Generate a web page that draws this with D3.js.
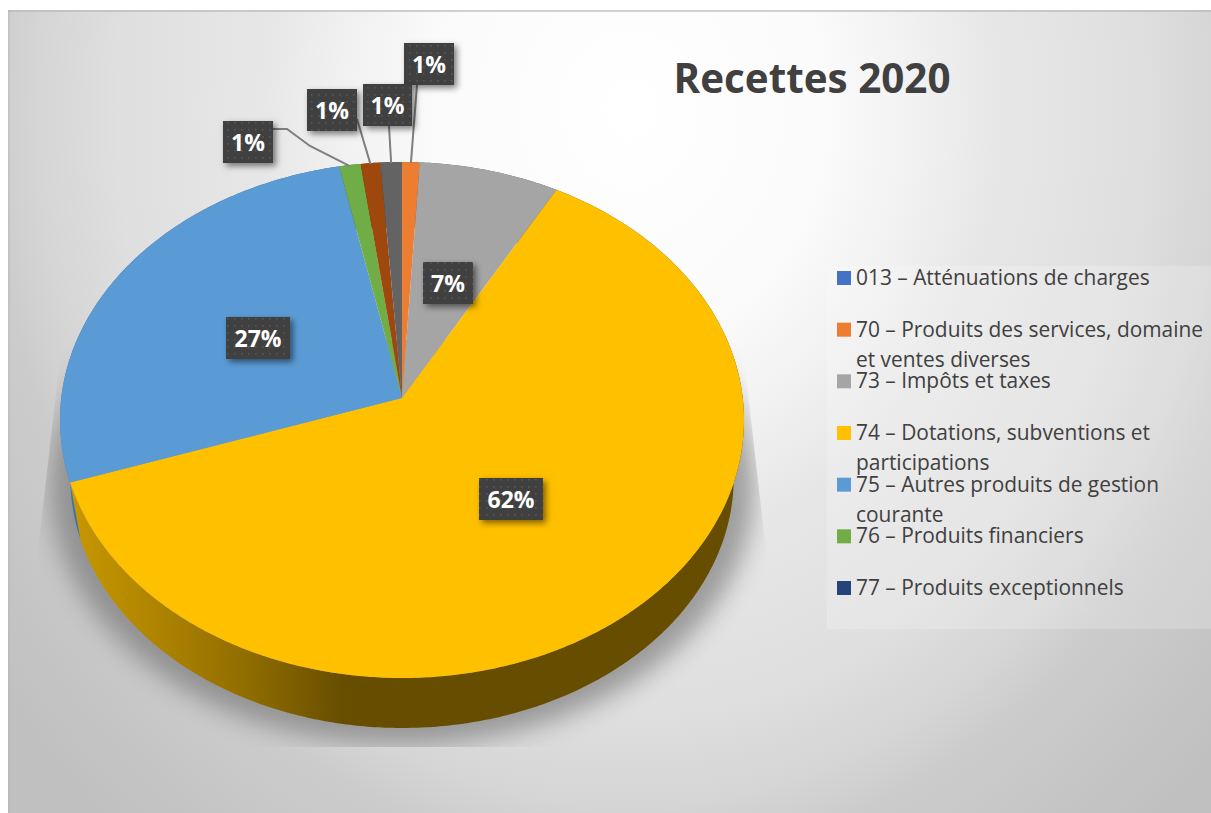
<!DOCTYPE html>
<html><head><meta charset="utf-8">
<script src="https://cdn.jsdelivr.net/npm/d3@7/dist/d3.min.js"></script>
<style>html,body{margin:0;padding:0;background:#fff}svg{display:block}</style>
</head><body><svg id="c" width="1211" height="813"></svg>
<script>
const title = "Recettes 2020";
const seriesValues = [0, 0.9, 7.2, 61.7, 27.0, 1.1, 0, 1.0, 1.1];
const seriesColors = ["#4472C4","#ED7D31","#A5A5A5","#FFC000","#5B9BD5","#70AD47","#264478","#9E480E","#636363"];
const legendLabels = [
  ["013 – Atténuations de charges"],
  ["70 – Produits des services, domaine","et ventes diverses"],
  ["73 – Impôts et taxes"],
  ["74 – Dotations, subventions et","participations"],
  ["75 – Autres produits de gestion","courante"],
  ["76 – Produits financiers"],
  ["77 – Produits exceptionnels"]
];

const FONT = "'Open Sans', sans-serif";
const svg = d3.select("#c");
const defs = svg.append("defs");

// background
const bg = defs.append("radialGradient").attr("id","bg").attr("gradientUnits","userSpaceOnUse")
  .attr("cx",0).attr("cy",0).attr("r",1)
  .attr("gradientTransform","translate(630,110) scale(800,937)");
[[0,"#ffffff"],[0.24,"#fbfbfb"],[0.36,"#f1f1f1"],[0.46,"#e7e7e7"],[0.64,"#dfdfdf"],[0.744,"#d5d5d5"],[0.8,"#cccccc"],[1,"#c0c0c0"]]
  .forEach(s=>bg.append("stop").attr("offset",s[0]).attr("stop-color",s[1]));
svg.append("rect").attr("x",8).attr("y",10).attr("width",1203).attr("height",803).attr("fill","url(#bg)");
svg.append("rect").attr("x",8).attr("y",10).attr("width",1203).attr("height",2).attr("fill","#b4b4b4").attr("opacity",.6);
svg.append("rect").attr("x",8).attr("y",10).attr("width",2).attr("height",803).attr("fill","#b4b4b4").attr("opacity",.4);

// perspective pie geometry
const k = 0.0853;
const topX = d3.scaleLinear().domain([-1,1]).range([402-340.75,402+340.75]);
const topY = d3.scaleLinear().domain([-1,1]).range([398-256.1,398+256.1]);
const baseX = d3.scaleLinear().domain([-1,1]).range([402-330.5,402+330.5]);
const baseY = d3.scaleLinear().domain([-1,1]).range([456.4-248.4,456.4+248.4]);
const shadowX = d3.scaleLinear().domain([-1,1]).range([402-351,402+351]);
const shadowY = d3.scaleLinear().domain([-1,1]).range([463-258,463+258]);
const project = (a,sx,sy,r=1)=>{
  const u=r*Math.sin(a), v=-r*Math.cos(a), w=1-k*v;
  return [sx(u/w), sy(v/w)];
};
const arcs = d3.pie().sort(null).value(d=>d)(seriesValues).map((d,i)=>({...d,i}));
const line = d3.line();
const samples = (a0,a1)=>{
  const n=Math.max(2,Math.ceil((a1-a0)/0.01));
  return d3.range(n+1).map(j=>a0+(a1-a0)*j/n);
};

// shadow
defs.append("filter").attr("id","blur").attr("x","-20%").attr("y","-20%").attr("width","140%").attr("height","140%")
  .append("feGaussianBlur").attr("stdDeviation",12);
defs.append("clipPath").attr("id","shClip").append("polygon")
  .attr("points","62,340 38,550 38,747 765,747 767,560 742,340");
svg.append("g").attr("clip-path","url(#shClip)")
  .append("path").attr("d",line(samples(0,2*Math.PI).map(a=>project(a,shadowX,shadowY)))+"Z")
  .attr("fill","#707070").attr("opacity",.62).attr("filter","url(#blur)");

// wall gradients
const wallStops = {
  3:[[70,"#c89800"],[150,"#b08500"],[250,"#8f6c00"],[345,"#664d00"],[760,"#664d00"]],
  4:[[60,"#4a80b4"],[80,"#3d6d9b"]]
};
Object.entries(wallStops).forEach(([i,st])=>{
  const g=defs.append("linearGradient").attr("id","wall"+i).attr("gradientUnits","userSpaceOnUse")
    .attr("x1",st[0][0]).attr("x2",st[st.length-1][0]).attr("y1",0).attr("y2",0);
  const x0=st[0][0],x1=st[st.length-1][0];
  st.forEach(s=>g.append("stop").attr("offset",(s[0]-x0)/(x1-x0)).attr("stop-color",s[1]));
});
// walls
svg.append("g").selectAll("path").data(arcs.filter(d=>d.value>0)).join("path")
  .attr("d",d=>{
    const a=samples(d.startAngle,d.endAngle);
    return line(a.map(t=>project(t,topX,topY)).concat(a.slice().reverse().map(t=>project(t,baseX,baseY))))+"Z";
  })
  .attr("fill",d=>wallStops[d.i]?`url(#wall${d.i})`:d3.color(seriesColors[d.i]).darker(1.5));
// top faces
svg.append("g").selectAll("path").data(arcs.filter(d=>d.value>0)).join("path")
  .attr("d",d=>line([project(0,topX,topY,0)].concat(samples(d.startAngle,d.endAngle).map(t=>project(t,topX,topY))))+"Z")
  .attr("fill",d=>seriesColors[d.i]);

// leader lines
const leaders = [
  {s:5,pts:[[273,129],[287,129],[310,146]]},
  {s:7,pts:[[357,119]]},
  {s:8,pts:[[389,126]]},
  {s:1,pts:[[417,85]]}
];
svg.append("g").selectAll("path").data(leaders).join("path")
  .attr("d",d=>{
    const arc=arcs[d.s], end=project((arc.startAngle+arc.endAngle)/2,topX,topY);
    return line(d.pts.concat([[end[0],end[1]+1]]));
  })
  .attr("fill","none").attr("stroke","#7f7f7f").attr("stroke-width",2);

// data labels
const pat=defs.append("pattern").attr("id","dots").attr("patternUnits","userSpaceOnUse").attr("width",7).attr("height",7);
pat.append("rect").attr("width",7).attr("height",7).attr("fill","#404040");
pat.append("rect").attr("x",3).attr("y",3).attr("width",1.6).attr("height",1.6).attr("fill","#565656");
const sf=defs.append("filter").attr("id","ds").attr("x","-30%").attr("y","-30%").attr("width","170%").attr("height","170%");
sf.append("feDropShadow").attr("dx",3).attr("dy",3).attr("stdDeviation",3).attr("flood-color","#000").attr("flood-opacity",.5);
const labelBoxes = [
  {s:1,x:404,y:43,w:50,h:42},{s:2,x:423,y:262,w:50,h:42},{s:3,x:479,y:478,w:64,h:42},
  {s:4,x:226,y:317,w:64,h:42},{s:5,x:223,y:121,w:50,h:42},{s:7,x:307,y:89,w:50,h:42},{s:8,x:363,y:84,w:49,h:42}
];
const lg=svg.append("g").selectAll("g").data(labelBoxes).join("g");
lg.append("rect").attr("x",d=>d.x).attr("y",d=>d.y).attr("width",d=>d.w).attr("height",d=>d.h)
  .attr("fill","url(#dots)").attr("filter","url(#ds)");
lg.append("text").attr("x",d=>d.x+d.w/2).attr("y",d=>d.y+d.h/2+8.5).attr("text-anchor","middle")
  .attr("font-family",FONT).attr("font-weight",700).attr("font-size",23).attr("fill","#fff")
  .text(d=>d3.format(".0f")(seriesValues[d.s])+"%");

// title
svg.append("text").attr("x",812).attr("y",93).attr("text-anchor","middle")
  .attr("font-family",FONT).attr("font-weight",700).attr("font-size",40.4).attr("fill","#404040").text(title);

// legend
svg.append("rect").attr("x",827).attr("y",266).attr("width",384).attr("height",363).attr("fill","#fff").attr("opacity",.2);
const rowY = d3.scaleLinear().domain([0,6]).range([271,581]);
const lr=svg.append("g").selectAll("g").data(legendLabels).join("g");
lr.append("rect").attr("x",837).attr("y",(d,i)=>rowY(i)).attr("width",14).attr("height",14)
  .attr("fill",(d,i)=>seriesColors[i]);
lr.append("text").attr("font-family",FONT).attr("font-size",20.9).attr("fill","#404040")
  .selectAll("tspan").data((d,i)=>d.map((t,j)=>({t,j,i}))).join("tspan")
  .attr("x",856).attr("y",d=>rowY(d.i)+14+d.j*30).text(d=>d.t);
</script></body></html>
